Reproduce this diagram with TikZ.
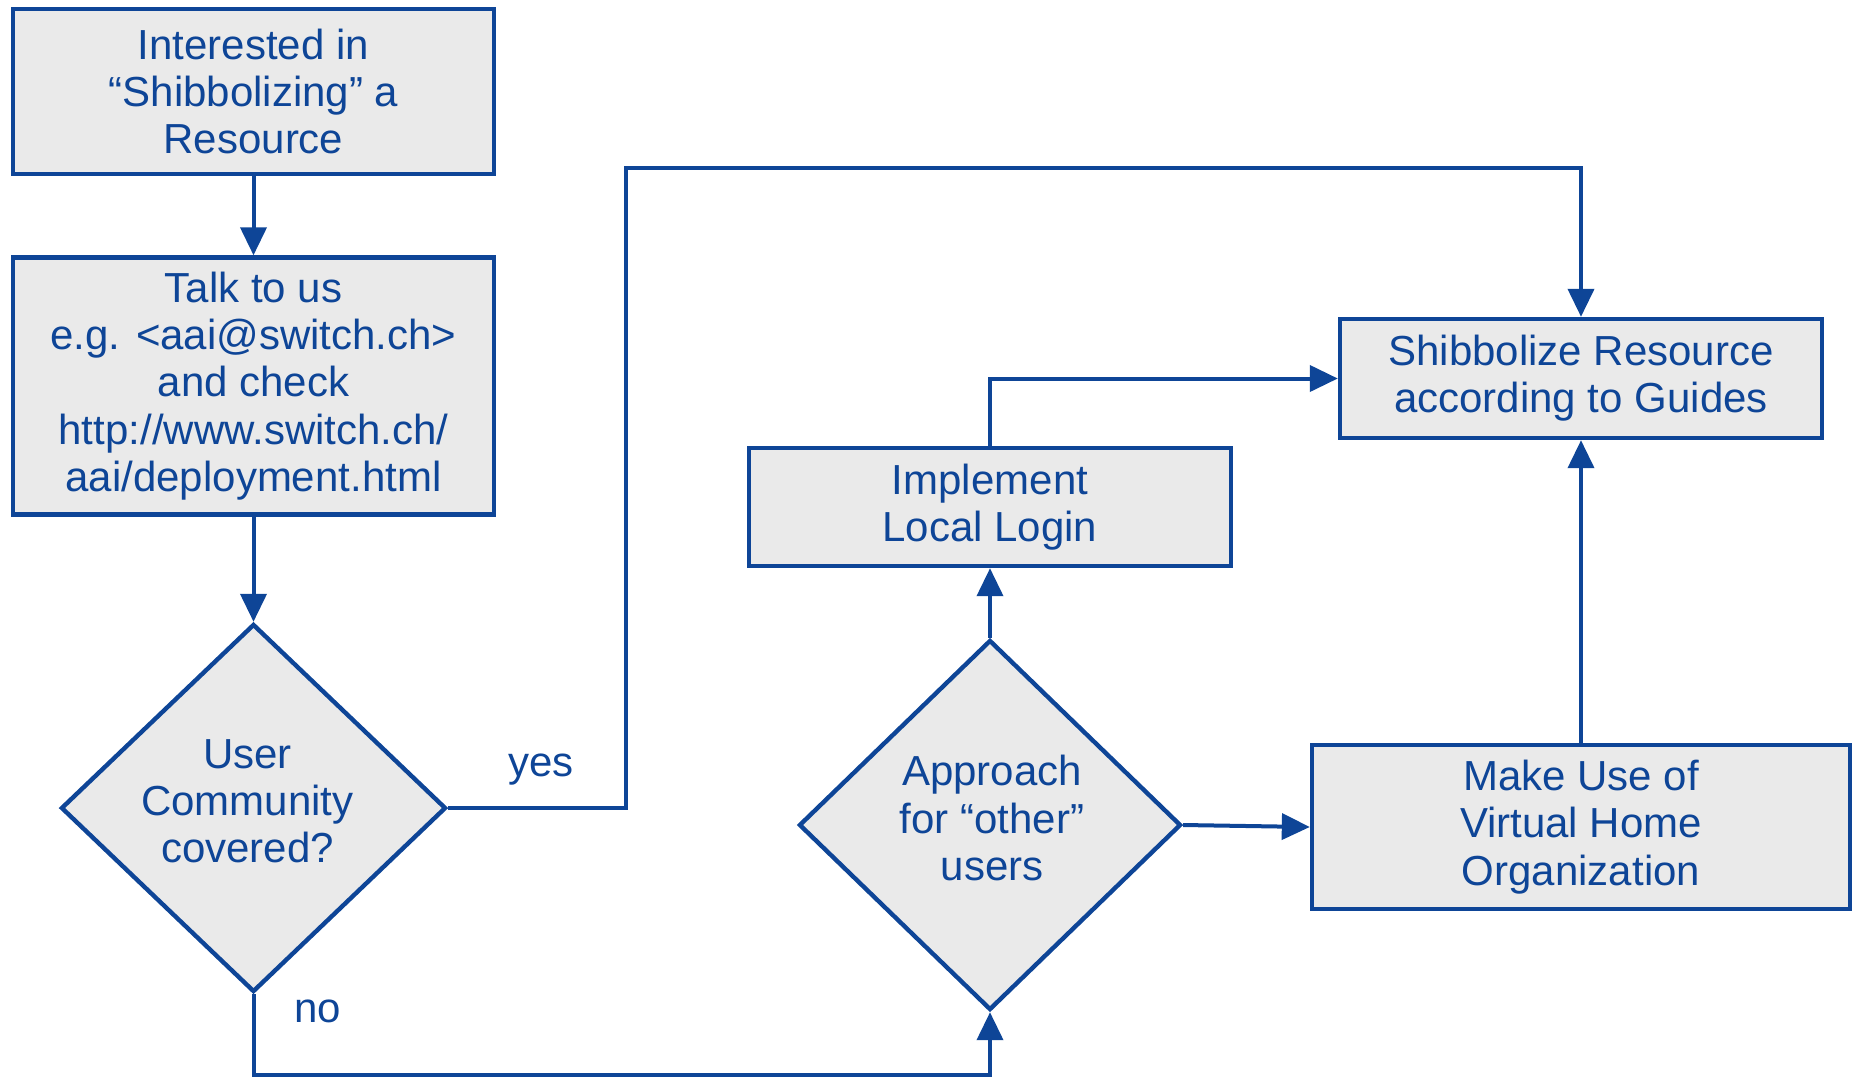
\documentclass[tikz,border=0pt]{standalone}
\usepackage{fontspec}
\setmainfont{Liberation Sans}
\usepackage{tikz}
\usetikzlibrary{positioning}
\usetikzlibrary{shapes.geometric, arrows.meta}

\definecolor{aaiblue}{RGB}{14,69,151}
\definecolor{aaigrey}{RGB}{234,234,234}
\tikzset{
  flowtext/.style={text=aaiblue, align=center, font=\fontsize{21}{23.6}\selectfont},
  flow/.style={flowtext, draw=aaiblue, fill=aaigrey, line width=2.2pt},
  stepbox/.style={flow, rectangle, inner sep=0pt},
  decide/.style={flow, diamond, aspect=1, inner sep=0pt},
  link/.style={draw=aaiblue, line width=2pt},
  >={Triangle[length=14pt,width=13pt]}
}

\begin{document}
\begin{tikzpicture}[x=0.5pt, y=-0.5pt]
\useasboundingbox (0,0) rectangle (1852,1077);
\node[stepbox, minimum width=240.5pt, minimum height=82.5pt] (interest) at (253.5,91.5)
  {Interested in\\“Shibbolizing” a\\Resource};
\node[stepbox, minimum width=240.5pt, minimum height=128.5pt] (talk) at (253.5,386)
  {Talk to us\\e.g. <aai@switch.ch>\\and check\\http://www.switch.ch/\\aai/deployment.html};
\node[decide, minimum width=192.5pt, minimum height=184pt,
  label={[flowtext, xshift=-3pt, yshift=3.5pt]center:{User\\Community\\covered?}}] (covered) at (253.5,808) {};
\node[stepbox, minimum width=241pt, minimum height=59.5pt] (shib) at (1581,378.5)
  {Shibbolize Resource\\according to Guides};
\node[stepbox, minimum width=241pt, minimum height=59pt] (local) at (990,507)
  {Implement\\Local Login};
\node[decide, minimum width=191pt, minimum height=185pt,
  label={[flowtext, xshift=1pt, yshift=3.5pt]center:{Approach\\for “other”\\users}}] (approach) at (990,825) {};
\node[stepbox, minimum width=269pt, minimum height=82pt] (vho) at (1581,827)
  {Make Use of\\Virtual Home\\Organization};

\coordinate (yesbend) at (626,168);
\coordinate (nobend) at (253.5,1075);

\draw[link, ->] (interest) -- (talk);
\draw[link, ->] (talk) -- (covered);
\draw[link, ->] (covered.east) -| (yesbend) -| (shib.north);
\draw[link, ->] (covered.south) -- (nobend) -| (approach.south);
\draw[link, ->] (approach.north) -- (local.south);
\draw[link, ->] (local.north) |- (shib.west);
\draw[link, ->] (approach.east) -- (vho.west);
\draw[link, ->] (vho.north) -- (shib.south);

\node[flowtext] (yes) at (541,770) {yes};
\node[flowtext] (no) at (318,1011) {no};
\end{tikzpicture}
\end{document}
